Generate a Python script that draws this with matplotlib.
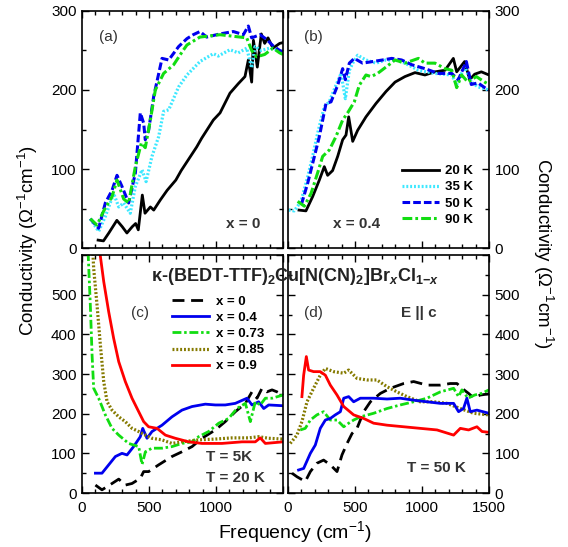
import numpy as np
import matplotlib
matplotlib.use('agg')
import matplotlib.pyplot as plt
from matplotlib.ticker import MultipleLocator

plt.rcParams['font.family'] = ['Liberation Sans', 'DejaVu Sans']
plt.rcParams['mathtext.fontset'] = 'custom'
plt.rcParams['mathtext.rm'] = 'Liberation Sans'
plt.rcParams['mathtext.bf'] = 'Liberation Sans:bold'
plt.rcParams['mathtext.it'] = 'Liberation Sans:bold:italic'

# panel (a): x = 0, different temperatures
a_f_20K = [120, 160, 200, 260, 300, 335, 375, 400, 420, 450, 470, 510, 535, 585, 635, 700, 740, 856, 893, 980, 1030, 1104, 1166, 1216, 1241, 1266, 1279, 1308, 1338, 1363, 1388, 1425, 1475, 1500]
a_s_20K = [10, 9, 19, 35, 27, 19, 27, 31, 23, 67, 44, 52, 48, 61, 73, 86, 98, 128, 139, 162, 171, 196, 208, 217, 238, 210, 263, 229, 271, 259, 266, 253, 259, 260]
a_f_35K = [62, 124, 174, 236, 274, 311, 360, 398, 448, 478, 522, 572, 609, 647, 721, 783, 806, 880, 980, 1017, 1104, 1166, 1229, 1266, 1291, 1338, 1400, 1475, 1500]
a_s_35K = [37, 21, 40, 69, 52, 57, 44, 78, 99, 84, 116, 141, 173, 175, 204, 219, 223, 236, 246, 243, 251, 247, 253, 228, 255, 250, 253, 250, 250]
a_f_50K = [62, 124, 174, 224, 261, 298, 348, 398, 435, 460, 472, 497, 535, 597, 647, 721, 783, 830, 880, 930, 1030, 1129, 1204, 1241, 1266, 1328, 1378, 1425, 1475, 1500]
a_s_50K = [37, 25, 57, 73, 92, 78, 57, 95, 171, 158, 137, 149, 192, 240, 238, 255, 265, 270, 274, 267, 271, 274, 270, 281, 266, 270, 264, 256, 250, 248]
a_f_90K = [62, 112, 162, 224, 261, 311, 348, 398, 443, 472, 510, 547, 609, 684, 746, 783, 880, 1030, 1129, 1229, 1266, 1303, 1363, 1425, 1475, 1500]
a_s_90K = [37, 29, 47, 65, 86, 62, 57, 103, 133, 127, 162, 200, 221, 232, 248, 257, 267, 270, 268, 266, 250, 242, 245, 253, 247, 245]

# panel (b): x = 0.4
b_f_20K = [82, 134, 184, 234, 271, 296, 333, 371, 408, 433, 453, 483, 520, 582, 657, 731, 799, 873, 948, 1022, 1097, 1172, 1234, 1259, 1318, 1356, 1393, 1443, 1500]
b_s_20K = [48, 47, 65, 86, 103, 92, 98, 116, 137, 143, 166, 135, 149, 166, 183, 198, 210, 217, 222, 219, 223, 225, 240, 223, 236, 213, 220, 223, 219]
b_f_35K = [5, 47, 97, 147, 184, 221, 271, 308, 358, 396, 428, 458, 483, 520, 582, 657, 731, 799, 873, 973, 1097, 1222, 1259, 1318, 1368, 1418, 1500]
b_s_35K = [48, 47, 59, 90, 116, 145, 179, 185, 206, 221, 189, 225, 234, 244, 238, 234, 238, 238, 234, 225, 221, 219, 207, 230, 210, 204, 200]
b_f_50K = [100, 147, 184, 234, 284, 321, 371, 408, 428, 458, 495, 557, 632, 706, 774, 848, 923, 1022, 1122, 1222, 1271, 1331, 1368, 1418, 1468, 1500]
b_s_50K = [55, 82, 107, 141, 183, 185, 206, 227, 213, 234, 240, 234, 236, 238, 240, 238, 232, 227, 221, 221, 213, 236, 207, 209, 203, 200]
b_f_90K = [72, 122, 172, 221, 259, 308, 358, 408, 445, 495, 532, 582, 620, 669, 731, 799, 873, 973, 1022, 1097, 1172, 1222, 1259, 1296, 1343, 1405, 1468, 1500]
b_s_90K = [59, 53, 69, 95, 116, 124, 141, 162, 171, 185, 206, 219, 217, 221, 229, 238, 234, 240, 234, 234, 227, 225, 203, 219, 210, 217, 210, 207]

# panel (c): low temperature, different x
c_f_x0 = [100, 149, 224, 274, 323, 373, 435, 460, 497, 572, 671, 746, 821, 895, 995, 1069, 1144, 1219, 1268, 1306, 1343, 1380, 1418, 1455, 1500]
c_s_x0 = [20, 8, 24, 35, 20, 24, 37, 54, 54, 71, 92, 104, 117, 138, 159, 180, 205, 226, 255, 239, 264, 255, 260, 255, 247]
c_f_x04 = [100, 149, 199, 249, 298, 336, 385, 435, 453, 485, 522, 597, 671, 746, 821, 920, 995, 1069, 1144, 1231, 1268, 1318, 1356, 1393, 1500]
c_s_x04 = [50, 50, 71, 92, 100, 96, 117, 142, 163, 138, 155, 171, 192, 209, 218, 224, 222, 222, 226, 239, 222, 230, 213, 222, 220]
c_f_x073 = [40, 62, 75, 87, 124, 174, 224, 274, 348, 423, 448, 473, 522, 597, 671, 746, 821, 870, 945, 1020, 1094, 1156, 1219, 1256, 1293, 1330, 1368, 1418, 1500]
c_s_x073 = [650, 474, 348, 264, 239, 197, 163, 146, 125, 117, 72, 104, 113, 113, 117, 125, 129, 142, 155, 176, 188, 213, 226, 180, 230, 222, 239, 239, 247]
c_f_x085 = [70, 87, 112, 137, 162, 187, 224, 274, 323, 373, 423, 473, 522, 597, 671, 746, 870, 995, 1119, 1243, 1318, 1393, 1500]
c_s_x085 = [680, 566, 474, 373, 281, 230, 209, 192, 180, 163, 155, 146, 138, 134, 125, 129, 134, 136, 139, 139, 142, 138, 136]
c_f_x09 = [120, 162, 199, 236, 274, 323, 373, 423, 460, 497, 560, 622, 696, 796, 895, 1044, 1194, 1293, 1330, 1368, 1500]
c_s_x09 = [640, 533, 457, 390, 331, 281, 239, 205, 180, 167, 163, 146, 138, 129, 125, 125, 129, 129, 139, 125, 129]

# panel (d): T = 50 K
d_f_x0 = [30, 67, 129, 167, 216, 266, 316, 366, 403, 441, 478, 515, 565, 615, 689, 764, 863, 938, 1037, 1137, 1211, 1261, 1298, 1348, 1385, 1435, 1500]
d_s_x0 = [50, 41, 29, 54, 75, 83, 71, 54, 96, 125, 150, 163, 205, 230, 251, 264, 276, 281, 272, 272, 276, 276, 264, 251, 240, 247, 250]
d_f_x04 = [79, 117, 167, 204, 241, 279, 316, 353, 391, 416, 453, 490, 540, 639, 739, 838, 938, 1037, 1137, 1236, 1273, 1310, 1335, 1360, 1410, 1500]
d_s_x04 = [58, 62, 100, 121, 163, 184, 188, 197, 205, 239, 243, 230, 239, 239, 237, 239, 234, 230, 226, 226, 205, 213, 239, 205, 209, 201]
d_f_x073 = [92, 129, 167, 216, 266, 316, 366, 416, 453, 490, 540, 639, 739, 838, 938, 1037, 1137, 1236, 1273, 1298, 1343, 1393, 1443, 1500]
d_s_x073 = [159, 163, 184, 197, 205, 184, 184, 167, 176, 184, 192, 201, 213, 222, 230, 239, 255, 264, 243, 260, 239, 247, 251, 260]
d_f_x085 = [17, 67, 104, 142, 191, 241, 279, 341, 416, 453, 515, 590, 664, 739, 813, 888, 987, 1087, 1186, 1286, 1385, 1500]
d_s_x085 = [125, 146, 180, 230, 264, 297, 314, 306, 302, 310, 289, 285, 285, 268, 255, 243, 230, 230, 226, 213, 201, 197]
d_f_x09 = [104, 117, 137, 154, 191, 241, 279, 316, 366, 416, 490, 565, 639, 739, 863, 987, 1112, 1236, 1286, 1348, 1410, 1448, 1500]
d_s_x09 = [243, 297, 344, 310, 306, 306, 297, 272, 247, 218, 197, 188, 176, 171, 167, 163, 159, 146, 163, 159, 167, 155, 153]

temp_labels = ['20 K', '35 K', '50 K', '90 K']
x_labels = ['x = 0', 'x = 0.4', 'x = 0.73', 'x = 0.85', 'x = 0.9']

# line styles
LW = 2.0
st_20K = dict(color='black', ls='-', lw=LW)
st_35K = dict(color='#3de8ff', ls=(0, (0.6, 0.6)), lw=2.3)
st_50K = dict(color='#0000ee', ls=(0, (2.5, 1.0)), lw=2.2)
st_90K = dict(color='#11dd11', ls=(0, (3.2, 1.0, 0.9, 1.0)), lw=2.2)
st_x0 = dict(color='black', ls=(0, (4.3, 2.4)), lw=LW)
st_x04 = dict(color='#0000ee', ls='-', lw=LW)
st_x073 = dict(color='#11dd11', ls=(0, (3.2, 1.0, 0.9, 1.0)), lw=LW)
st_x085 = dict(color='#857a00', ls=(0, (0.6, 0.6)), lw=2.3)
st_x09 = dict(color='#ff0000', ls='-', lw=LW)

fig = plt.figure(figsize=(5.68, 5.47), dpi=100)
axa = fig.add_axes([0.1444, 0.5466, 0.3539, 0.4333])
axb = fig.add_axes([0.5070, 0.5466, 0.3539, 0.4333])
axc = fig.add_axes([0.1444, 0.0987, 0.3539, 0.4351])
axd = fig.add_axes([0.5070, 0.0987, 0.3539, 0.4351])


def style_axis(ax, ymax, right=False, xlabels=None, ylabels=None):
  ax.set_xlim(0, 1500)
  ax.set_ylim(0, ymax)
  ax.xaxis.set_major_locator(MultipleLocator(500))
  ax.xaxis.set_minor_locator(MultipleLocator(100))
  ax.yaxis.set_major_locator(MultipleLocator(100))
  ax.yaxis.set_minor_locator(MultipleLocator(50))
  ax.tick_params(which='both', direction='in', top=True, right=True, left=True, bottom=True, width=1.0, labelsize=11, pad=4)
  ax.tick_params(axis='x', which='major', pad=6)
  ax.tick_params(which='major', length=5)
  ax.tick_params(which='minor', length=3)
  if right:
    ax.tick_params(labelleft=False, labelright=True)
  if xlabels is None:
    ax.tick_params(labelbottom=False)
  else:
    ax.set_xticks([0, 500, 1000, 1500])
    ax.set_xticklabels(xlabels)
  ticks = list(range(0, ymax + 1, 100))
  ax.set_yticks(ticks)
  ax.set_yticklabels(ylabels)
  for sp in ax.spines.values():
    sp.set_linewidth(1.2)


style_axis(axa, 300, ylabels=['0', '100', '200', '300'])
style_axis(axb, 300, right=True, ylabels=['0', '100', '200', '300'])
style_axis(axc, 600, xlabels=['0', '500', '1000', ''], ylabels=['0', '100', '200', '300', '400', '500', ''])
style_axis(axd, 600, right=True, xlabels=['0', '500', '1000', '1500'], ylabels=['0', '100', '200', '300', '400', '500', ''])

# top row
axa.plot(a_f_20K, a_s_20K, **st_20K)
axa.plot(a_f_35K, a_s_35K, **st_35K)
axa.plot(a_f_50K, a_s_50K, **st_50K)
axa.plot(a_f_90K, a_s_90K, **st_90K)

axb.plot(b_f_20K, b_s_20K, label=temp_labels[0], **st_20K)
axb.plot(b_f_35K, b_s_35K, label=temp_labels[1], **st_35K)
axb.plot(b_f_50K, b_s_50K, label=temp_labels[2], **st_50K)
axb.plot(b_f_90K, b_s_90K, label=temp_labels[3], **st_90K)

# bottom row
axc.plot(c_f_x0, c_s_x0, label=x_labels[0], **st_x0)
axc.plot(c_f_x04, c_s_x04, label=x_labels[1], **st_x04)
axc.plot(c_f_x073, c_s_x073, label=x_labels[2], **st_x073)
axc.plot(c_f_x085, c_s_x085, label=x_labels[3], **st_x085)
axc.plot(c_f_x09, c_s_x09, label=x_labels[4], **st_x09)

axd.plot(d_f_x0, d_s_x0, **st_x0)
axd.plot(d_f_x085, d_s_x085, **st_x085)
axd.plot(d_f_x073, d_s_x073, **st_x073)
axd.plot(d_f_x04, d_s_x04, **st_x04)
axd.plot(d_f_x09, d_s_x09, **st_x09)

leg_kw = dict(frameon=False, loc='upper left', borderaxespad=0, borderpad=0,
              handlelength=2.8, handletextpad=0.5, labelspacing=0.3,
              prop={'weight': 'bold', 'size': 9.5})
axb.legend(bbox_to_anchor=(0.567, 0.35), **leg_kw)
axc.legend(bbox_to_anchor=(0.448, 0.83), **leg_kw)

# panel annotations
lab_kw = dict(fontsize=11, color='#333333', ha='center', va='center')
bold_kw = dict(fontsize=11, fontweight='bold', color='#333333', ha='center', va='center')
axa.text(0.13, 0.89, '(a)', transform=axa.transAxes, **lab_kw)
axb.text(0.125, 0.89, '(b)', transform=axb.transAxes, **lab_kw)
axc.text(0.29, 0.756, '(c)', transform=axc.transAxes, **lab_kw)
axd.text(0.125, 0.756, '(d)', transform=axd.transAxes, **lab_kw)
axa.text(0.80, 0.10, 'x = 0', transform=axa.transAxes, **bold_kw)
axb.text(0.34, 0.10, 'x = 0.4', transform=axb.transAxes, **bold_kw)
axc.text(0.73, 0.15, 'T = 5K', transform=axc.transAxes, **bold_kw)
axc.text(0.765, 0.063, 'T = 20 K', transform=axc.transAxes, **bold_kw)
axd.text(0.65, 0.756, 'E || c', transform=axd.transAxes, **bold_kw)
axd.text(0.74, 0.105, 'T = 50 K', transform=axd.transAxes, **bold_kw)

title = (r'κ-(BEDT-TTF)$_\mathbf{2}$Cu[N(CN)$_\mathbf{2}$]Br$_x$Cl$_{\mathbf{1}\mathbf{-}x}$')
fig.text(295 / 568, 1 - 277 / 547, title, fontsize=13, fontweight='bold',
         color='#222222', ha='center', va='center')

# axis labels
ylab = r'Conductivity ($\Omega^{-1}$cm$^{-1}$)'
fig.text(28 / 568, 1 - 241 / 547, ylab, rotation=90, fontsize=13.5, ha='center', va='center')
fig.text(543 / 568, 1 - 253 / 547, ylab, rotation=270, fontsize=13.5, ha='center', va='center')
fig.text(295 / 568, 1 - 532 / 547, r'Frequency (cm$^{-1}$)', fontsize=14, ha='center', va='center')

fig.savefig('out.png', dpi=100)
